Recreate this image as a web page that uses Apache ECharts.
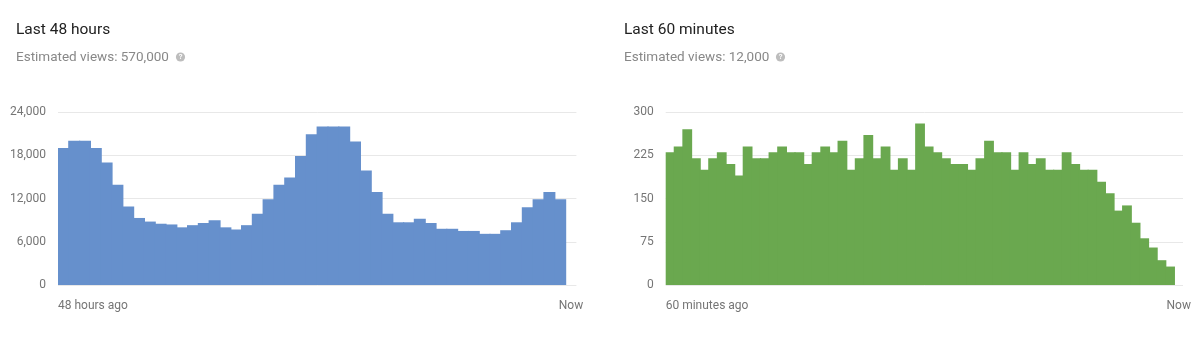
<!DOCTYPE html>
<html>
<head>
<meta charset="utf-8">
<script src="https://cdn.jsdelivr.net/npm/echarts@6/dist/echarts.min.js"></script>
<style>
html,body{margin:0;padding:0;background:#fff;}
#c{width:1200px;height:345px;}
</style>
</head>
<body>
<div id="c"></div>
<script>
// ---- data ----
var hourCategories = ['-48h','-47h','-46h','-45h','-44h','-43h','-42h','-41h','-40h','-39h','-38h','-37h','-36h','-35h','-34h','-33h','-32h','-31h','-30h','-29h','-28h','-27h','-26h','-25h','-24h','-23h','-22h','-21h','-20h','-19h','-18h','-17h','-16h','-15h','-14h','-13h','-12h','-11h','-10h','-9h','-8h','-7h','-6h','-5h','-4h','-3h','-2h','-1h'];
var hourViews = [19000,20000,20000,19000,17000,13900,10900,9300,8800,8500,
                 8400,8000,8300,8600,9000,8000,7700,8300,9900,11900,
                 13900,14900,17900,20900,22000,22000,22000,19900,15900,12900,
                 9900,8700,8700,9200,8600,7800,7800,7500,7500,7100,
                 7100,7600,8700,10800,11900,12900,11900];
var minuteCategories = [];
for (var m = 60; m >= 1; m--) { minuteCategories.push('-' + m + 'm'); }
var minuteViews = [230,240,270,220,200,220,230,210,190,240,
                   220,220,230,240,230,230,210,230,240,230,
                   250,200,220,260,220,240,200,220,200,280,
                   240,230,220,210,210,200,220,250,230,230,
                   200,230,210,220,200,200,230,210,200,200,
                   179,159,129,138,108,81,65,43,32];
var hourTickLabels = ['48 hours ago', 'Now'];
var minuteTickLabels = ['60 minutes ago', 'Now'];
var hourYTicks = {min: 0, max: 24000, interval: 6000};
var minuteYTicks = {min: 0, max: 300, interval: 75};
var titles = ['Last 48 hours', 'Last 60 minutes'];
var subtitles = ['Estimated views: 570,000', 'Estimated views: 12,000'];

// ---- chart ----
var FONT = 'Roboto, "Noto Sans", Arial, sans-serif';
var LABEL_COLOR = '#757575';
var GRID_COLOR = '#e8e8e8';
var chart = echarts.init(document.getElementById('c'), null, {renderer: 'canvas'});

function fmt(v) { return Number(v).toLocaleString('en-US'); }

function yAxis(gi, t) {
  return {
    type: 'value', gridIndex: gi, min: t.min, max: t.max, interval: t.interval,
    axisLine: {show: false}, axisTick: {show: false},
    splitLine: {lineStyle: {color: GRID_COLOR, width: 1}},
    axisLabel: {color: LABEL_COLOR, fontFamily: FONT, fontSize: 12, margin: 12, formatter: fmt}
  };
}
function catAxis(gi, cats) {
  return {
    type: 'category', gridIndex: gi, data: cats, boundaryGap: true,
    axisLine: {show: false}, axisTick: {show: false}, axisLabel: {show: false},
    splitLine: {show: false}
  };
}
function labelAxis(gi, n, labels) {
  return {
    type: 'value', gridIndex: gi, min: 0, max: n, position: 'bottom',
    axisLine: {show: false}, axisTick: {show: false}, splitLine: {show: false},
    axisLabel: {
      customValues: [0, n - 0.5],
      alignMinLabel: 'left',
      color: LABEL_COLOR, fontFamily: FONT, fontSize: 12, margin: 15,
      formatter: function (v) { return v === 0 ? labels[0] : labels[1]; }
    }
  };
}
function bars(xi, yi, data, color, w) {
  return {
    type: 'bar', xAxisIndex: xi, yAxisIndex: yi, data: data,
    barWidth: w, barGap: '0%',
    itemStyle: {color: color},
    silent: true, animation: false
  };
}

var option = {
  animation: false,
  backgroundColor: '#ffffff',
  textStyle: {fontFamily: FONT},
  title: [
    {text: titles[0], left: 16, top: 21, padding: 0, textStyle: {fontFamily: FONT, fontSize: 15.5, fontWeight: 'normal', color: '#212121', lineHeight: 18}},
    {text: subtitles[0], left: 16, top: 49, padding: 0, textStyle: {fontFamily: FONT, fontSize: 13.5, fontWeight: 'normal', color: '#888888', lineHeight: 17}},
    {text: titles[1], left: 624, top: 21, padding: 0, textStyle: {fontFamily: FONT, fontSize: 15.5, fontWeight: 'normal', color: '#212121', lineHeight: 18}},
    {text: subtitles[1], left: 624, top: 49, padding: 0, textStyle: {fontFamily: FONT, fontSize: 13.5, fontWeight: 'normal', color: '#888888', lineHeight: 17}}
  ],
  graphic: [
    {type: 'circle', shape: {cx: 180.5, cy: 57, r: 4.6}, style: {fill: '#bdbdbd'}, silent: true},
    {type: 'text', x: 180.5, y: 57.3, style: {text: '?', fill: '#ffffff', font: 'bold 7.5px ' + FONT, align: 'center', verticalAlign: 'middle'}, silent: true},
    {type: 'circle', shape: {cx: 780.5, cy: 57, r: 4.6}, style: {fill: '#bdbdbd'}, silent: true},
    {type: 'text', x: 780.5, y: 57.3, style: {text: '?', fill: '#ffffff', font: 'bold 7.5px ' + FONT, align: 'center', verticalAlign: 'middle'}, silent: true}
  ],
  grid: [
    {left: 58, top: 112, width: 518.4, height: 173, containLabel: false},
    {left: 665.7, top: 112, width: 517.3, height: 173, containLabel: false}
  ],
  xAxis: [
    catAxis(0, hourCategories),
    catAxis(1, minuteCategories),
    labelAxis(0, hourCategories.length, hourTickLabels),
    labelAxis(1, minuteCategories.length, minuteTickLabels)
  ],
  yAxis: [yAxis(0, hourYTicks), yAxis(1, minuteYTicks)],
  series: [
    bars(0, 0, hourViews, '#6690cc', 12),
    bars(1, 1, minuteViews, '#6aa84f', 9.8)
  ]
};
chart.setOption(option);
</script>
</body>
</html>
